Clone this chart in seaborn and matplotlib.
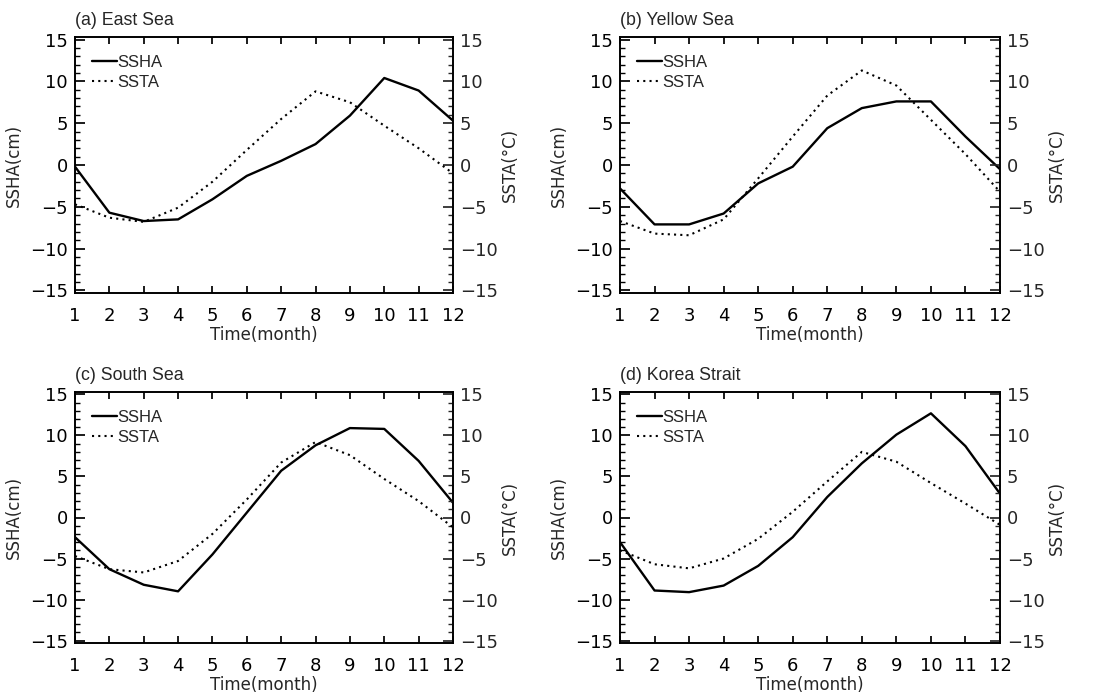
import numpy as np
import pandas as pd
import matplotlib
matplotlib.use("Agg")
import matplotlib.pyplot as plt
import seaborn as sns
from matplotlib.ticker import MultipleLocator

months = list(range(1, 13))
titles = ["(a) East Sea", "(b) Yellow Sea", "(c) South Sea", "(d) Korea Strait"]

ssha_east = [-0.2, -5.7, -6.7, -6.5, -4.1, -1.3, 0.5, 2.5, 5.9, 10.4, 8.9, 5.3]
ssta_east = [-4.7, -6.3, -6.8, -5.1, -2.0, 1.8, 5.5, 8.8, 7.5, 4.7, 2.0, -1.0]

ssha_yellow = [-2.8, -7.1, -7.1, -5.8, -2.2, -0.2, 4.4, 6.8, 7.6, 7.6, 3.4, -0.5]
ssta_yellow = [-6.7, -8.2, -8.4, -6.5, -1.6, 3.4, 8.3, 11.3, 9.5, 5.4, 1.3, -3.2]

ssha_south = [-2.4, -6.3, -8.2, -9.0, -4.5, 0.6, 5.7, 8.8, 10.9, 10.8, 6.9, 1.8]
ssta_south = [-4.7, -6.3, -6.7, -5.3, -2.0, 2.2, 6.7, 9.2, 7.6, 4.7, 2.0, -1.2]

ssha_korea = [-3.0, -8.9, -9.1, -8.3, -5.9, -2.4, 2.5, 6.6, 10.1, 12.7, 8.7, 2.9]
ssta_korea = [-4.0, -5.7, -6.2, -5.0, -2.6, 0.7, 4.4, 8.0, 6.8, 4.2, 1.7, -0.9]

ssha_all = [ssha_east, ssha_yellow, ssha_south, ssha_korea]
ssta_all = [ssta_east, ssta_yellow, ssta_south, ssta_korea]

sns.set_theme(style="ticks")
plt.rcParams['font.family'] = ['DejaVu Sans']

TICKFONT = 13
LABFONT = 12
fig = plt.figure(figsize=(10.94, 6.98), dpi=100)
W, H = 1094, 698
boxes = [(75, 37, 453, 293), (620, 37, 1000, 293),
         (75, 392, 453, 643), (620, 392, 1000, 643)]

for i, (l, t, r, b) in enumerate(boxes):
    ax = fig.add_axes([l / W, 1 - b / H, (r - l) / W, (b - t) / H])
    df1 = pd.DataFrame({"month": months, "value": ssha_all[i]})
    df2 = pd.DataFrame({"month": months, "value": ssta_all[i]})
    sns.lineplot(data=df1, x="month", y="value", ax=ax, color="black",
                 linewidth=1.7, label="SSHA")
    ax2 = ax.twinx()
    sns.lineplot(data=df2, x="month", y="value", ax=ax2, color="black",
                 linewidth=1.5, linestyle=(0, (1, 2.0)), label="SSTA")
    for a in (ax, ax2):
        a.set_xlim(1, 12)
        a.set_ylim(-15.3, 15.3)
        a.yaxis.set_major_locator(MultipleLocator(5))
        a.yaxis.set_minor_locator(MultipleLocator(1))
        a.set_xticks(months)
        for s in a.spines.values():
            s.set_linewidth(1.2)
            s.set_color("black")
    ax.tick_params(axis="both", which="both", direction="in", top=True,
                   labelsize=TICKFONT, colors="black")
    ax.tick_params(axis="x", which="major", length=5, pad=10)
    ax.tick_params(axis="y", which="major", length=7, pad=5)
    ax.tick_params(axis="y", which="minor", length=3.5)
    ax2.tick_params(axis="y", which="both", direction="in", labelsize=TICKFONT, pad=5)
    ax2.tick_params(axis="y", which="major", length=7)
    ax2.tick_params(axis="y", which="minor", length=3.5)
    ax.set_xlabel("Time(month)", fontsize=LABFONT, labelpad=1)
    ax.set_ylabel("SSHA(cm)", fontsize=LABFONT, labelpad=5)
    ax2.set_ylabel("SSTA(°C)", fontsize=LABFONT, labelpad=2)
    ax.text(0.0, 1.03, titles[i], transform=ax.transAxes, fontsize=12.8,
            ha="left", va="bottom", family=["Liberation Sans", "DejaVu Sans"])
    h1, l1 = ax.get_legend_handles_labels()
    h2, l2 = ax2.get_legend_handles_labels()
    if ax2.get_legend():
        ax2.get_legend().remove()
    ax.legend(h1 + h2, l1 + l2, loc="upper left", frameon=False,
              prop={"family": ["Liberation Sans", "DejaVu Sans"], "size": 12},
              handlelength=1.5, handletextpad=0.05, labelspacing=0.3,
              borderaxespad=0.5, bbox_to_anchor=(0.005, 0.99))

fig.savefig("out.png", dpi=100)
